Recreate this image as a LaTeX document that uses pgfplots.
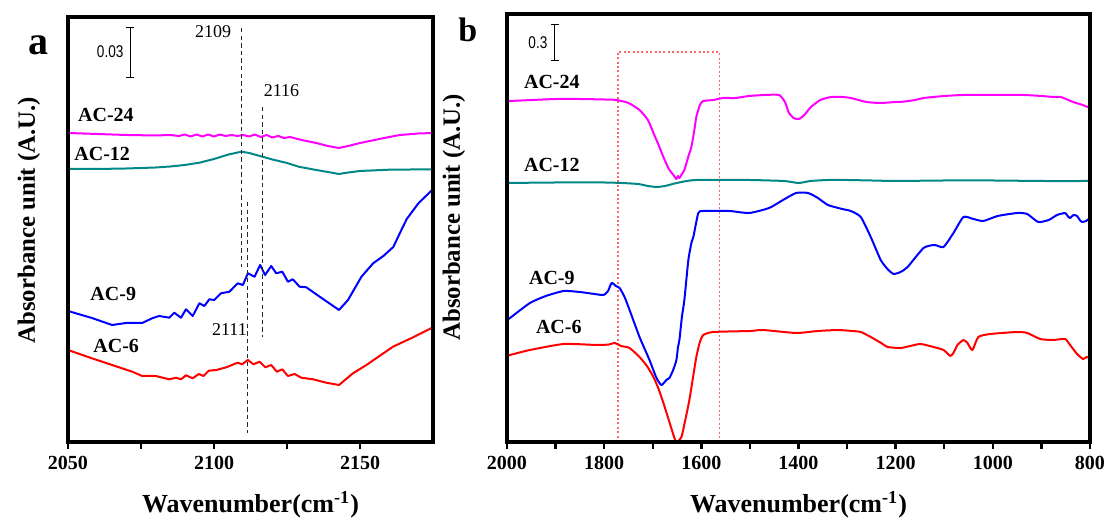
\documentclass[border=0pt]{standalone}
\usepackage{fontspec}
\setmainfont{Liberation Serif}
\newfontfamily\sansf{Liberation Sans}
\usepackage{graphicx}
\usepackage{pgfplots}
\pgfplotsset{compat=1.18}
\usetikzlibrary{arrows.meta}
\definecolor{cmag}{RGB}{255,0,255}
\definecolor{cteal}{RGB}{0,135,135}
\definecolor{cblue}{RGB}{0,0,255}
\definecolor{cred}{RGB}{255,0,0}
\definecolor{csalmon}{RGB}{255,100,100}
\definecolor{cdash}{RGB}{40,40,40}
\tikzset{
  curve/.style={line width=1pt, line join=round},
  lab/.style={font=\fontsize{10}{12}\selectfont\bfseries},
}
\pgfplotsset{
  common/.style={
    scale only axis, clip=false,
    axis line style={line width=1.3pt},
    ytick=\empty, xtick pos=left, tick align=outside,
    major tick length=3.5pt, minor tick length=3.5pt,
    major tick style={line width=1.2pt,black},
    minor tick style={line width=1.2pt,black},
    minor x tick num=1,
    xticklabel style={font=\fontsize{10}{12}\selectfont\bfseries},
    /pgf/number format/assume math mode=true,
    /pgf/number format/1000 sep={},
    xlabel={Wavenumber(cm\textsuperscript{-1})},
    ylabel={Absorbance unit (A.U.)},
    xlabel style={font=\fontsize{13}{15}\selectfont\bfseries},
    ylabel style={font=\fontsize{12.4}{14}\selectfont\bfseries},
  },
}
\begin{document}
\begin{tikzpicture}
\useasboundingbox (0,0) rectangle (555pt,259pt);
% ---------------- panel a ----------------
\begin{axis}[common,
  at={(34pt,38pt)}, anchor=south west,
  width=182.5pt, height=212.5pt,
  xmin=2050, xmax=2175, ymin=0, ymax=425,
  xtick={2050,2100,2150},
  xlabel style={at={(axis description cs:0.5,-0.148)}, anchor=center},
  ylabel style={at={(axis description cs:-0.107,0.522)}, anchor=center},
]
% AC-24
\addplot[curve, cmag] coordinates {
(2050,309) (2060,308) (2070,307) (2080,306.5) (2085,307) (2088,306) (2090,307.5)
(2092,305.5) (2094,307.5) (2096,305.5) (2098,307.5) (2100,305.5) (2102,307.5)
(2104,306) (2106,307) (2108,306) (2110,307) (2112,305.5) (2114,307.5) (2116,305)
(2118,307) (2120,304.5) (2122,306) (2124,304) (2126,305) (2130,302) (2135,299)
(2139,296) (2142.7,294) (2146,296) (2150,299) (2155,302) (2160,305) (2163.7,307)
(2170,308.5) (2175,309)};
% AC-12
\addplot[curve, cteal] coordinates {
(2050,273) (2060,273) (2070,273.5) (2080,274.5) (2085,275.5) (2090,277) (2095,279.3)
(2100,283) (2105,287.5) (2109.4,290.3) (2112,289) (2116.6,285.3) (2120,282.5)
(2125,279) (2129,275.3) (2135,272) (2140,269.5) (2142.7,268) (2146,269.5)
(2150,271) (2160,272.3) (2175,272.7)};
% AC-9
\addplot[curve, cblue] coordinates {
(2050,131) (2058.2,124) (2065.1,117) (2069.9,119) (2075.4,119) (2078.8,123.7)
(2081.2,126) (2084.7,124.3) (2086.4,129.3) (2088.7,124.3) (2090.4,132.7)
(2092.7,126) (2095,138.7) (2096.7,136) (2098.4,142.7) (2100.1,142) (2102.4,148.7)
(2105.3,150.3) (2108.1,158.7) (2109.9,157) (2111.6,168.7) (2113.9,165.3)
(2115.8,177) (2117.5,167) (2119.6,176) (2121.3,168.7) (2123.4,170.3) (2125.3,160.3)
(2127,162.7) (2129.3,155.3) (2131.6,154.7) (2136.2,145.3) (2142.8,132)
(2145.9,142) (2150.5,165.3) (2154.5,178.7) (2158,186) (2161.4,195) (2164,211) (2166,223) (2170,238.7)
(2174.7,252)};
% AC-6
\addplot[curve, cred] coordinates {
(2050,92) (2058.2,83.7) (2065.1,77) (2072,70.3) (2075.4,66) (2080,66) (2084.7,62.7)
(2087,64.3) (2088.7,62.7) (2090.4,66.7) (2092.7,63.7) (2094.8,68) (2096.4,66)
(2098.2,71.3) (2100.8,72) (2104.2,74.7) (2108.1,79.3) (2109.6,77.7) (2111.6,82)
(2113.5,77.7) (2115.6,80.3) (2117.6,74.7) (2119.6,77) (2121.5,70.3) (2123.4,72.7)
(2125.3,66) (2127.6,68) (2129.9,64.3) (2133.9,62.7) (2138.4,59.3) (2142.8,57)
(2147.6,68.7) (2152.2,77) (2161.3,95.3) (2168.2,104.7) (2175,114.7)};
% dashed marker lines
\addplot[cdash, line width=0.6pt, dash pattern=on 2.2pt off 1.6pt] coordinates {(2109.4,414) (2109.4,175)};
\addplot[cdash, line width=0.6pt, dash pattern=on 2.2pt off 1.6pt] coordinates {(2116.6,335) (2116.6,105)};
\addplot[cdash, line width=0.6pt, dash pattern=on 2.2pt off 1.6pt] coordinates {(2111.5,240) (2111.5,9)};
\node[font=\fontsize{9}{10}\selectfont, anchor=east] at (axis cs:2108.3,410) {2109};
\node[font=\fontsize{9}{10}\selectfont] at (axis cs:2123.1,351) {2116};
\node[font=\fontsize{9}{10}\selectfont] at (axis cs:2105.3,112) {2111};
% scale bar
\draw[line width=0.6pt, {Bar[width=4pt]}-{Bar[width=4pt]}] (axis cs:2071.3,415) -- (axis cs:2071.3,364);
\node[anchor=east, inner sep=1pt, font=\sansf\fontsize{8.5}{10}\selectfont] at (axis cs:2069.8,390) {\scalebox{0.8}[1]{0.03}};
% curve labels
\node[lab] at (axis cs:2063,327) {AC-24};
\node[lab] at (axis cs:2061.7,288) {AC-12};
\node[lab] at (axis cs:2065.5,148) {AC-9};
\node[lab] at (axis cs:2066.5,96) {AC-6};
\node[font=\fontsize{20}{22}\selectfont\bfseries] at (axis description cs:-0.082,0.934) {a};
\draw[line width=1.9pt, line join=miter] (rel axis cs:0,0) rectangle (rel axis cs:1,1);
\end{axis}
% ---------------- panel b ----------------
\begin{axis}[common,
  at={(253.5pt,38pt)}, anchor=south west,
  width=291.5pt, height=214pt,
  x dir=reverse,
  xmin=800, xmax=2000, ymin=0, ymax=428,
  xtick={800,1000,1200,1400,1600,1800,2000},
  xlabel style={at={(axis description cs:0.5,-0.147)}, anchor=center},
  ylabel style={at={(axis description cs:-0.091,0.525)}, anchor=center},
]
% red dotted box
\addplot[csalmon, line width=0.8pt, dash pattern=on 1pt off 1.2pt] coordinates {(1772,0) (1772,390) (1563,390) (1563,0) (1772,0)};
% AC-24
\addplot[curve, cmag, smooth, tension=0.35] coordinates {
(2000,341) (1993.8,341) (1900,343) (1850,343) (1800,342.5) (1774.4,342) (1750,339)
(1727.2,332) (1710,322) (1698.5,309) (1688,297) (1678,285) (1667,273) (1657.4,267)
(1651.3,263) (1648,266) (1645,264) (1640,268) (1634.9,272) (1627,285) (1620.5,295)
(1615,310) (1610.3,325) (1603,337) (1595.9,341) (1575,342) (1554.9,344) (1530,344)
(1501.5,346) (1470,347) (1440,347) (1428,340) (1419.5,329) (1410,324) (1399,323)
(1388,327) (1374.4,335) (1355,342) (1333.3,345) (1310,345) (1292.3,344) (1260,340)
(1230.8,339) (1200,340) (1189.7,340) (1160,342) (1142.6,344) (1100,346) (1060.5,347)
(1000,347) (937.4,347) (900,346) (875.9,345) (860,345) (834.9,340) (815,337) (800,334)};
% AC-12
\addplot[curve, cteal, smooth, tension=0.35] coordinates {
(2000,259) (1900,259.5) (1800,259.5) (1764,259) (1730,258) (1710,256) (1692,255)
(1675,256) (1655,258.5) (1630,261) (1610,262) (1550,262) (1500,262) (1430,261)
(1400,259) (1375,261) (1340,262) (1300,262) (1250,261.5) (1200,261) (1100,261.5)
(1000,261.5) (900,261) (800,261)};
% AC-9
\addplot[curve, cblue, smooth, tension=0.35] coordinates {
(2000,122) (1993.8,124) (1952.8,139) (1920,146) (1883.1,151) (1850.3,150) (1820,148)
(1801,147) (1792,151) (1784.6,159) (1776,156) (1768.2,154) (1758,145) (1747.7,132)
(1727.2,105) (1706.7,82) (1692.3,64) (1682.1,57) (1672,62) (1665.6,64) (1658,72)
(1651.3,82) (1648,95) (1645.1,102) (1640,125) (1634.9,142) (1626.7,182) (1620,200)
(1616.4,205) (1606.2,229) (1595.9,231) (1542.6,231) (1501.5,229) (1460.5,234)
(1431.8,242) (1405.1,249) (1380.5,249) (1360,244) (1339.5,237) (1310,233)
(1292.3,231) (1271.8,225) (1251.3,205) (1230.8,182) (1215,172) (1204.1,168)
(1190,170) (1175.4,175) (1142.6,194) (1120,197) (1101.5,195) (1081,209) (1060.5,225)
(1040,223) (1019.5,221) (990,226) (949.7,229) (929.2,228) (906.7,220) (885,222)
(867.7,227) (851.3,229) (846,226) (841,224) (834,227) (826.6,226) (821,222)
(816.4,220) (808,221) (800,224)};
% AC-6
\addplot[curve, cred, smooth, tension=0.35] coordinates {
(2000,86) (1993.8,87) (1952.8,92) (1883.1,98) (1815.4,97) (1790,97.5) (1778.5,99)
(1765,96) (1747.7,94) (1727.2,85) (1712,76) (1698.5,65) (1688,53) (1678,39)
(1667,22) (1657.4,7) (1651.3,0) (1641,5) (1633,22) (1624.6,42) (1617,65) (1610.3,85)
(1603,100) (1595.9,107) (1575.4,110) (1500,111) (1472.8,112) (1405.1,109)
(1360,111) (1319,112) (1290,111) (1271.8,110) (1251.3,105) (1230,99) (1216.4,95)
(1189.7,94) (1170,96) (1148.7,98) (1122.1,95) (1101.5,92) (1087.2,86) (1080,90)
(1072.8,97) (1060.5,102) (1052.3,99) (1042.1,92) (1029.8,105) (1005.1,108)
(949.7,110) (929.2,109) (902.6,103) (875.9,102) (851.3,103) (841,97) (826.6,88)
(814.3,83) (807,85) (800,84)};
% scale bar
\draw[line width=0.6pt, {Bar[width=4pt]}-{Bar[width=4pt]}] (axis cs:1901.5,418) -- (axis cs:1901.5,381);
\node[anchor=east, inner sep=1pt, font=\sansf\fontsize{8.5}{10}\selectfont] at (axis cs:1912,399) {\scalebox{0.8}[1]{0.3}};
% curve labels
\node[lab] at (axis cs:1907.7,360) {AC-24};
\node[lab] at (axis cs:1907.7,277) {AC-12};
\node[lab] at (axis cs:1907.7,164) {AC-9};
\node[lab] at (axis cs:1893.3,115) {AC-6};
\node[font=\fontsize{17}{19}\selectfont\bfseries] at (axis description cs:-0.067,0.962) {b};
\draw[line width=1.9pt, line join=miter] (rel axis cs:0,0) rectangle (rel axis cs:1,1);
\end{axis}
\end{tikzpicture}
\end{document}
